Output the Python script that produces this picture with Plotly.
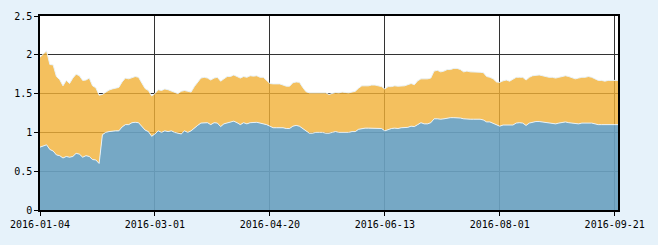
import plotly.graph_objects as go

# Series values, one value per trading day
blue = [0.81, 0.83, 0.84, 0.78, 0.76, 0.71, 0.70, 0.67, 0.69, 0.68,
        0.69, 0.73, 0.72, 0.68, 0.70, 0.69, 0.65, 0.645, 0.60, 0.97,
        1.00, 1.01, 1.02, 1.02, 1.02, 1.07, 1.10, 1.10, 1.125, 1.13,
        1.125, 1.07, 1.03, 1.01, 0.95, 0.98, 1.02, 1.00, 1.02, 1.01,
        1.02, 1.00, 0.99, 0.98, 1.02, 1.00, 1.02, 1.06, 1.09, 1.12,
        1.125, 1.125, 1.10, 1.125, 1.12, 1.075, 1.11, 1.125, 1.14, 1.145,
        1.125, 1.10, 1.125, 1.11, 1.125, 1.13, 1.13, 1.12, 1.11, 1.10,
        1.08, 1.06, 1.06, 1.06, 1.06, 1.05, 1.05, 1.08, 1.09, 1.08,
        1.05, 1.01, 0.99, 0.99, 1.00, 1.00, 1.00, 0.99, 0.99, 1.00,
        1.01, 1.00, 1.00, 1.00, 1.00, 1.01, 1.01, 1.04, 1.05, 1.055,
        1.055, 1.055, 1.055, 1.05, 1.05, 1.02, 1.04, 1.05, 1.055, 1.05,
        1.06, 1.06, 1.065, 1.08, 1.075, 1.10, 1.125, 1.11, 1.11, 1.125,
        1.175, 1.175, 1.17, 1.175, 1.185, 1.19, 1.19, 1.19, 1.185, 1.175,
        1.17, 1.17, 1.17, 1.17, 1.17, 1.16, 1.135, 1.135, 1.12, 1.10,
        1.08, 1.095, 1.095, 1.095, 1.095, 1.12, 1.125, 1.12, 1.09, 1.12,
        1.135, 1.14, 1.14, 1.135, 1.125, 1.12, 1.12, 1.11, 1.12, 1.125,
        1.135, 1.125, 1.12, 1.11, 1.11, 1.12, 1.12, 1.12, 1.12, 1.11,
        1.10, 1.10, 1.10, 1.10, 1.10, 1.10, 1.10]

orange = [1.16, 1.18, 1.21, 1.095, 1.11, 1.01, 0.98, 0.93, 0.98, 0.95,
          1.01, 1.02, 1.01, 0.99, 0.975, 1.01, 0.95, 0.93, 0.88, 0.52,
          0.52, 0.535, 0.54, 0.555, 0.56, 0.58, 0.60, 0.59, 0.585, 0.59,
          0.585, 0.56, 0.535, 0.53, 0.52, 0.52, 0.53, 0.54, 0.54, 0.54,
          0.515, 0.51, 0.51, 0.55, 0.52, 0.53, 0.50, 0.53, 0.55, 0.58,
          0.585, 0.575, 0.575, 0.575, 0.59, 0.585, 0.58, 0.595, 0.58, 0.595,
          0.595, 0.60, 0.595, 0.60, 0.605, 0.595, 0.60, 0.59, 0.60, 0.57,
          0.55, 0.565, 0.565, 0.565, 0.55, 0.545, 0.545, 0.56, 0.56, 0.565,
          0.53, 0.515, 0.52, 0.52, 0.51, 0.51, 0.51, 0.52, 0.50, 0.505,
          0.505, 0.51, 0.52, 0.515, 0.51, 0.51, 0.52, 0.53, 0.55, 0.545,
          0.545, 0.555, 0.555, 0.55, 0.54, 0.54, 0.55, 0.54, 0.545, 0.545,
          0.54, 0.54, 0.55, 0.55, 0.54, 0.565, 0.565, 0.58, 0.58, 0.575,
          0.615, 0.625, 0.61, 0.615, 0.625, 0.62, 0.635, 0.635, 0.625, 0.605,
          0.62, 0.61, 0.61, 0.605, 0.605, 0.61, 0.585, 0.575, 0.57, 0.55,
          0.565, 0.57, 0.58, 0.565, 0.595, 0.59, 0.585, 0.59, 0.585, 0.59,
          0.595, 0.60, 0.60, 0.595, 0.595, 0.59, 0.59, 0.59, 0.59, 0.595,
          0.595, 0.595, 0.58, 0.58, 0.59, 0.59, 0.59, 0.60, 0.59, 0.58,
          0.57, 0.57, 0.56, 0.57, 0.57, 0.57, 0.57]

# Category axis labels (every 35th trading day)
tick_index = [0, 35, 70, 105, 140, 175]
tick_labels = ["2016-01-04", "2016-03-01", "2016-04-20",
               "2016-06-13", "2016-08-01", "2016-09-21"]

x = list(range(len(blue)))

fig = go.Figure()
fig.add_trace(go.Scatter(
    x=x, y=blue, mode="lines", stackgroup="s",
    line=dict(color="rgba(232,243,252,0.95)", width=1),
    fillcolor="rgba(106,161,192,0.92)", hoverinfo="skip", showlegend=False))
fig.add_trace(go.Scatter(
    x=x, y=orange, mode="lines", stackgroup="s",
    line=dict(color="rgba(232,243,252,0.95)", width=1),
    fillcolor="rgba(241,176,54,0.80)", hoverinfo="skip", showlegend=False))

fnt = dict(family="DejaVu Sans Mono", size=10, color="#000")
fig.update_layout(
    width=658, height=245,
    margin=dict(l=38, r=40, t=10, b=35),
    paper_bgcolor="#E6F2FA", plot_bgcolor="#FFFFFF",
    font=fnt,
    xaxis=dict(range=[0, len(blue) - 1], tickmode="array",
               tickvals=tick_index, ticktext=tick_labels,
               showgrid=True, gridcolor="#333333", gridwidth=1,
               showline=True, linecolor="#000", linewidth=1.5, mirror=True,
               ticks="outside", ticklen=4, tickcolor="#000",
               zeroline=False, tickfont=fnt),
    yaxis=dict(range=[0, 2.5], dtick=0.5, tick0=0,
               showgrid=True, gridcolor="#333333", gridwidth=1,
               showline=True, linecolor="#000", linewidth=1.5, mirror=True,
               ticks="outside", ticklen=4, tickcolor="#000",
               zeroline=False, tickfont=fnt),
)

fig.write_html("out.html")
